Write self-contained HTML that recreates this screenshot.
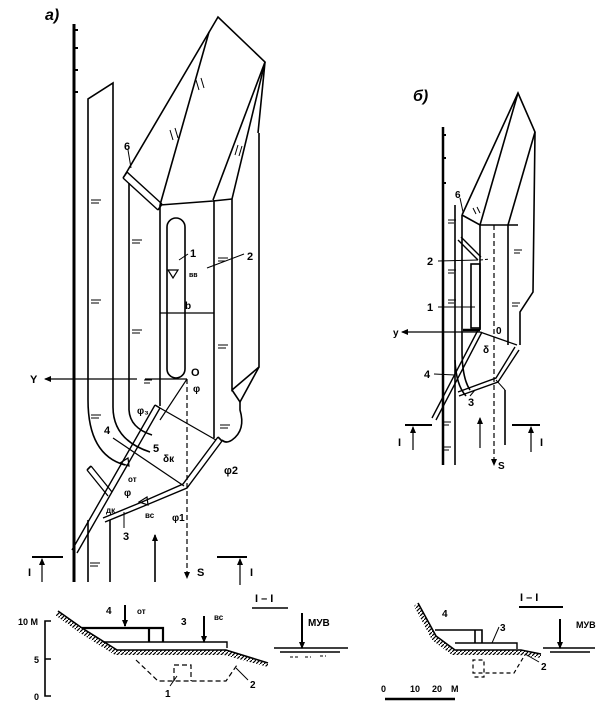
<!DOCTYPE html>
<html><head><meta charset="utf-8"><style>
html,body{margin:0;padding:0;background:#fff;}
svg{display:block;}
text{font-family:"Liberation Sans","DejaVu Sans",sans-serif;font-weight:bold;fill:#000;}
</style></head><body>
<svg width="604" height="703" viewBox="0 0 604 703" xmlns="http://www.w3.org/2000/svg">
<defs>
<marker id="ar" markerWidth="8" markerHeight="8" refX="6" refY="4" orient="auto" markerUnits="userSpaceOnUse"><path d="M0,1 L7,4 L0,7 z" fill="#000"/></marker>
<pattern id="hatch" width="4" height="4" patternUnits="userSpaceOnUse"><path d="M0,4 L4,0" stroke="#000" stroke-width="1.2"/></pattern>
</defs>
<g fill="none" stroke="#000" stroke-width="1.6">
<!-- ===== Diagram a ===== -->
<text x="45" y="20" font-size="16" font-style="italic" font-weight="normal" stroke="none">а)</text>
<line x1="74" y1="24" x2="74" y2="582" stroke-width="3"/>
<path d="M74,30h4M74,48h4M74,70h4M74,92h4" stroke-width="2"/>
<path d="M88,582 V520"/>
<path d="M88,400 V99 L113,83 V407 Q113,440 150,452"/>
<path d="M88,400 Q88,455 125,465"/>
<path d="M129,183 V410 Q130,428 152,435"/>
<path d="M110,520 V582"/>
<path d="M125,175 L218,17 L265,62 L258,133"/>
<path d="M209,32 L160,205"/>
<path d="M265,62 L213,200"/>
<path d="M265,62 L232,199"/>
<path d="M160,205 L213,201 L232,199"/>
<path d="M123,178 L158,210 M127,172 L162,204" stroke-width="1.4"/>
<path d="M123,178 L127,172 M158,210 L162,204"/>
<line x1="128" y1="150" x2="131" y2="168" stroke-width="1"/>
<text x="124" y="150" font-size="11" stroke="none">6</text>
<path d="M160,205 V406"/>
<path d="M214,200 V438"/>
<path d="M232,199 V390 L259,367 V133"/>
<path d="M232,390 L240,402 L259,367"/>
<path d="M240,402 V410 Q246,430 232,440 Q226,444 222,440"/>
<rect x="167" y="218" width="18" height="160" rx="9" ry="9"/>
<path d="M168,270 h10 l-5,8 z" stroke-width="1.2"/>
<text x="189" y="277" font-size="7" stroke="none">вв</text>
<text x="190" y="257" font-size="11" stroke="none">1</text>
<line x1="188" y1="254" x2="179" y2="260" stroke-width="1"/>
<text x="247" y="260" font-size="11" stroke="none">2</text>
<line x1="244" y1="254" x2="207" y2="268" stroke-width="1"/>
<line x1="160" y1="313" x2="214" y2="313" stroke-width="1.2"/>
<text x="185" y="309" font-size="10" font-weight="normal" stroke="none">b</text>
<line x1="137" y1="379" x2="45" y2="379" marker-end="url(#ar)" stroke-width="1.2"/>
<line x1="145" y1="379" x2="187" y2="379" stroke-width="1.2"/>
<text x="30" y="383" font-size="11" stroke="none">Y</text>
<text x="191" y="376" font-size="11" stroke="none">O</text>
<line x1="187" y1="379" x2="187" y2="578" stroke-dasharray="5,3" stroke-width="1.2" marker-end="url(#ar)"/>
<text x="197" y="576" font-size="11" stroke="none">S</text>
<line x1="187" y1="379" x2="160" y2="420" stroke-width="1.2"/>
<text x="193" y="392" font-size="10" font-weight="normal" stroke="none">φ</text>
<path d="M155,405 L72,550 M160,408 L77,553" stroke-width="1.4"/>
<path d="M155,405 L160,408"/>
<path d="M87,470 L108,496 M91,466 L112,492" stroke-width="1.3"/>
<path d="M87,470 L91,466"/>
<line x1="160" y1="408" x2="216" y2="440" stroke-width="1.2"/>
<line x1="113" y1="438" x2="184" y2="486" stroke-width="1.2"/>
<path d="M218,437 L183,484 L142,502 L103,518 M222,441 L187,488 L144,506 L105,522" stroke-width="1.4"/>
<path d="M218,437 L222,441"/>
<line x1="155" y1="582" x2="155" y2="535" marker-end="url(#ar)"/>
<text x="137" y="414" font-size="10" font-weight="normal" stroke="none">φ₃</text>
<text x="104" y="434" font-size="11" stroke="none">4</text>
<text x="153" y="452" font-size="11" stroke="none">5</text>
<text x="163" y="462" font-size="10" font-weight="normal" stroke="none">δк</text>
<text x="224" y="474" font-size="11" font-weight="normal" stroke="none">φ2</text>
<text x="128" y="482" font-size="8" stroke="none">от</text>
<text x="124" y="496" font-size="10" font-weight="normal" stroke="none">φ</text>
<text x="106" y="513" font-size="8" stroke="none">дк</text>
<text x="145" y="518" font-size="8" stroke="none">вс</text>
<text x="172" y="521" font-size="10" font-weight="normal" stroke="none">φ1</text>
<text x="123" y="540" font-size="11" stroke="none">3</text>
<line x1="124" y1="512" x2="124" y2="528" stroke-width="1"/>
<path d="M120,463 l8,-5 l1,8z M139,502 l8,-5 l1,8z" stroke-width="1.2"/>
<path d="M91,200h10M91,203h8M91,300h10M91,303h8M132,240h10M132,243h8M132,330h10M132,333h8M91,415h10M91,418h8M90,563h10M90,566h8M218,258h10M218,261h8M218,345h10M218,348h8M220,425h10M220,428h8M170,130l3,10M175,128l3,10M196,80l3,10M201,78l3,10M238,145l-3,10M242,146l-3,10M144,380h8M144,383h6" stroke-width="1"/>
<path d="M32,557h31M217,557h30" stroke-width="2"/>
<line x1="42" y1="582" x2="42" y2="559" marker-end="url(#ar)" stroke-width="1.2"/>
<line x1="240" y1="585" x2="240" y2="559" marker-end="url(#ar)" stroke-width="1.2"/>
<text x="28" y="576" font-size="11" stroke="none">I</text>
<text x="250" y="576" font-size="11" stroke="none">I</text>

<!-- ===== Section a ===== -->
<path d="M51,621 H45 V696 H51 M45,659 H51" stroke-width="1.6"/>
<text x="18" y="625" font-size="9" stroke="none">10 M</text>
<text x="34" y="663" font-size="9" stroke="none">5</text>
<text x="34" y="700" font-size="9" stroke="none">0</text>
<path d="M58,611 L82,628 L117,650 L226,650 L268,663 L268,667 L224,655 L115,655 L80,633 L55,615z" fill="url(#hatch)" stroke="none"/>
<path d="M58,611 L82,628 L117,650 L226,650 L268,663"/>
<path d="M82,628 H163 V642 M149,628 V642" stroke-width="2.2"/>
<path d="M103,642 H227 V648" stroke-width="1.4"/>
<path d="M136,660 L158,681 H226 L237,665 M174,681 V665 H191 V681" stroke-dasharray="5,3" stroke-width="1.2"/>
<text x="106" y="614" font-size="10" stroke="none">4</text>
<text x="137" y="614" font-size="8" stroke="none">от</text>
<line x1="125" y1="605" x2="125" y2="626" stroke-width="2" marker-end="url(#ar)"/>
<text x="181" y="625" font-size="10" stroke="none">3</text>
<text x="214" y="620" font-size="8" stroke="none">вс</text>
<line x1="204" y1="616" x2="204" y2="642" stroke-width="2" marker-end="url(#ar)"/>
<text x="250" y="688" font-size="10" stroke="none">2</text>
<line x1="248" y1="680" x2="236" y2="668" stroke-width="1"/>
<text x="165" y="697" font-size="10" stroke="none">1</text>
<line x1="170" y1="686" x2="177" y2="676" stroke-width="1"/>
<text x="255" y="602" font-size="11" stroke="none">I – I</text>
<line x1="252" y1="608" x2="288" y2="608" stroke-width="1.6"/>
<text x="308" y="626" font-size="10" stroke="none">МУВ</text>
<line x1="302" y1="613" x2="302" y2="648" stroke-width="2" marker-end="url(#ar)"/>
<path d="M274,648 H348 M280,652 H340" stroke-width="1.6"/>
<path d="M290,657h8M305,657h6M320,656h6" stroke-dasharray="3,2" stroke-width="1"/>

<!-- ===== Diagram b ===== -->
<text x="413" y="101" font-size="16" font-style="italic" font-weight="normal" stroke="none">б)</text>
<line x1="443" y1="127" x2="443" y2="465" stroke-width="2.5"/>
<path d="M443,135h3M443,158h3M443,183h3" stroke-width="2"/>
<line x1="455" y1="205" x2="455" y2="465" stroke-width="1.6"/>
<path d="M462,215 V350 Q462,378 470,390"/>
<path d="M455,360 Q456,385 466,396"/>
<path d="M462,215 L518,93 L535,132 L533,292 L520,312 V345"/>
<path d="M480,225 L518,93"/>
<path d="M535,132 L508,225"/>
<path d="M462,215 L480,225 L518,225"/>
<path d="M480,225 V330 M508,225 V345"/>
<rect x="471" y="264" width="9" height="64"/>
<line x1="463" y1="330" x2="480" y2="330" stroke-width="2.5"/>
<path d="M458,240 L478,260 M461,237 L481,257" stroke-width="1.4"/>
<line x1="460" y1="198" x2="463" y2="212" stroke-width="1"/>
<text x="455" y="198" font-size="10" stroke="none">6</text>
<text x="427" y="265" font-size="11" stroke="none">2</text>
<line x1="438" y1="261" x2="478" y2="260" stroke-width="1"/>
<line x1="480" y1="260" x2="490" y2="259" stroke-width="1" stroke-dasharray="3,2"/>
<text x="427" y="311" font-size="11" stroke="none">1</text>
<line x1="438" y1="307" x2="475" y2="307" stroke-width="1"/>
<line x1="494" y1="225" x2="494" y2="465" stroke-dasharray="5,3" stroke-width="1.2" marker-end="url(#ar)"/>
<text x="498" y="469" font-size="10" font-weight="normal" stroke="none">S</text>
<line x1="480" y1="332" x2="402" y2="332" stroke-width="1.2" marker-end="url(#ar)"/>
<text x="393" y="336" font-size="10" stroke="none">y</text>
<text x="496" y="334" font-size="10" stroke="none">0</text>
<line x1="480" y1="332" x2="517" y2="345" stroke-width="1.2"/>
<text x="483" y="353" font-size="10" font-weight="normal" stroke="none">δ</text>
<path d="M478,330 L432,418 M482,332 L436,420" stroke-width="1.4"/>
<path d="M458,392 L496,378 L515,347 M459,396 L498,382 L519,350" stroke-width="1.4"/>
<line x1="496" y1="380" x2="505" y2="390" stroke-width="1"/>
<line x1="505" y1="390" x2="505" y2="445"/>
<text x="424" y="378" font-size="11" stroke="none">4</text>
<line x1="434" y1="374" x2="455" y2="375" stroke-width="1"/>
<text x="468" y="406" font-size="11" stroke="none">3</text>
<line x1="470" y1="396" x2="475" y2="390" stroke-width="1"/>
<line x1="480" y1="448" x2="480" y2="418" stroke-width="1.2" marker-end="url(#ar)"/>
<path d="M448,220h8M448,223h6M448,270h8M448,273h6M448,300h8M448,303h6M443,422h8M443,425h6M443,447h8M443,450h6M514,250h8M514,253h6M512,303h8M512,306h6M473,208l3,6M477,207l3,6" stroke-width="1"/>
<path d="M405,425h27M512,425h28" stroke-width="2"/>
<line x1="413" y1="450" x2="413" y2="427" stroke-width="1.2" marker-end="url(#ar)"/>
<line x1="531" y1="452" x2="531" y2="427" stroke-width="1.2" marker-end="url(#ar)"/>
<text x="398" y="446" font-size="11" stroke="none">I</text>
<text x="540" y="446" font-size="11" stroke="none">I</text>

<!-- ===== Section b ===== -->
<path d="M418,603 L436,636 L455,650 L521,650 L541,654 L541,658 L519,655 L452,655 L432,640 L414,606z" fill="url(#hatch)" stroke="none"/>
<path d="M418,603 L436,636 L455,650 L521,650 L541,654"/>
<path d="M435,630 H482 V643 M475,630 V643" stroke-width="1.6"/>
<path d="M455,643 H517 V649" stroke-width="1.4"/>
<path d="M523,658 L514,673 H473 V660 H484 V677 H473" stroke-dasharray="4,3" stroke-width="1.2"/>
<text x="442" y="617" font-size="10" stroke="none">4</text>
<text x="500" y="631" font-size="10" stroke="none">3</text>
<line x1="499" y1="627" x2="492" y2="643" stroke-width="1"/>
<text x="541" y="670" font-size="10" stroke="none">2</text>
<line x1="539" y1="662" x2="525" y2="654" stroke-width="1"/>
<text x="520" y="601" font-size="11" stroke="none">I – I</text>
<line x1="519" y1="607" x2="563" y2="607" stroke-width="2"/>
<text x="576" y="628" font-size="9" stroke="none">МУВ</text>
<line x1="560" y1="619" x2="560" y2="648" stroke-width="2" marker-end="url(#ar)"/>
<path d="M543,648 H595 M550,652 H590" stroke-width="1.5"/>
<text x="381" y="692" font-size="9" stroke="none">0</text>
<text x="410" y="692" font-size="9" stroke="none">10</text>
<text x="432" y="692" font-size="9" stroke="none">20</text>
<text x="451" y="692" font-size="9" stroke="none">M</text>
<line x1="385" y1="699" x2="455" y2="699" stroke-width="2.5"/>
</g>
</svg>
</body></html>
